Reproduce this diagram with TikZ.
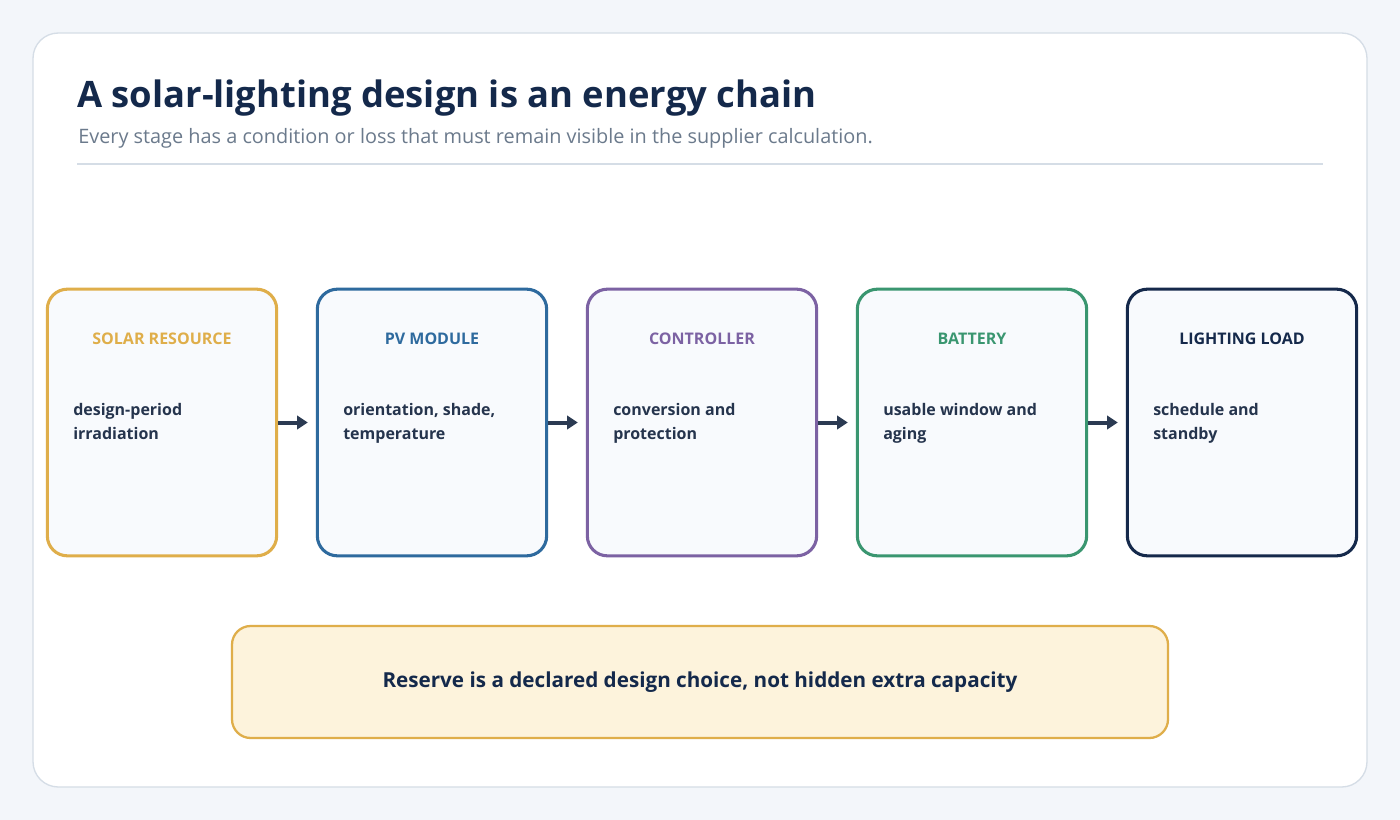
\documentclass[tikz,border=0pt]{standalone}
\usepackage{fontspec}
\setmainfont{Open Sans}
\usetikzlibrary{arrows.meta}
\definecolor{bg}{HTML}{F3F6FA}
\definecolor{cardline}{HTML}{D5DDE6}
\definecolor{navy}{HTML}{14294B}
\definecolor{subgray}{HTML}{6B7A8C}
\definecolor{bodytxt}{HTML}{25344D}
\definecolor{cgold}{HTML}{DFAE4A}
\definecolor{cblue}{HTML}{2E6A9E}
\definecolor{cpurple}{HTML}{7C62A3}
\definecolor{cgreen}{HTML}{3A9670}
\definecolor{cnavy}{HTML}{15294B}
\definecolor{boxfill}{HTML}{F8FAFD}
\definecolor{notefill}{HTML}{FDF3DC}
\definecolor{arrowc}{HTML}{2B3A52}
\begin{document}
\begin{tikzpicture}[x=0.75pt,y=-0.75pt,
 stage/.style={draw=#1,line width=2.3pt,fill=boxfill,rounded corners=15pt,minimum width=172pt,minimum height=200pt,inner sep=0pt},
 head/.style={font=\bfseries\fontsize{12}{14}\selectfont,text=#1},
 body/.style={font=\bfseries\fontsize{12}{18}\selectfont,text=bodytxt,align=left,anchor=north west,inner sep=0pt},
 arr/.style={draw=arrowc,line width=3pt,-{Triangle[length=8pt,width=10pt]}}]
\fill[bg] (0,0) rectangle (1400,820);
\draw[cardline,fill=white,line width=1pt,rounded corners=19pt] (33,33) rectangle (1367,787);
\node[anchor=base west,inner sep=0pt,font=\bfseries\fontsize{27.3}{32}\selectfont,text=navy] (title) at (77,108) {A solar-lighting design is an energy chain};
\node[anchor=base west,inner sep=0pt,font=\fontsize{14.9}{18}\selectfont,text=subgray] (sub) at (78,144) {Every stage has a condition or loss that must remain visible in the supplier calculation.};
\draw[cardline,line width=1pt] (77,164) -- (1323,164);
\foreach \i/\x/\c/\h/\ba/\bb in {1/162/cgold/SOLAR RESOURCE/design-period/irradiation,
 2/432/cblue/PV MODULE/{orientation, shade,}/temperature,
 3/702/cpurple/CONTROLLER/conversion and/protection,
 4/972/cgreen/BATTERY/usable window and/aging,
 5/1242/cnavy/LIGHTING LOAD/schedule and/standby}{
 \node[stage=\c] (s\i) at (\x,422.5) {};
 \node[head=\c] (h\i) at (\x,339) {\h};
 \node[body] (b\i) at (\x-89,403) {\ba\\\bb};
}
\foreach \a/\b in {1/2,2/3,3/4,4/5}{
 \draw[arr] (s\a.east) -- ([xshift=-6pt]s\b.west);
}
\node[draw=cgold,line width=1.7pt,fill=notefill,rounded corners=14pt,minimum width=702pt,minimum height=84pt,font=\bfseries\fontsize{15.5}{18}\selectfont,text=navy] (note) at (700,682) {Reserve is a declared design choice, not hidden extra capacity};
\end{tikzpicture}
\end{document}
